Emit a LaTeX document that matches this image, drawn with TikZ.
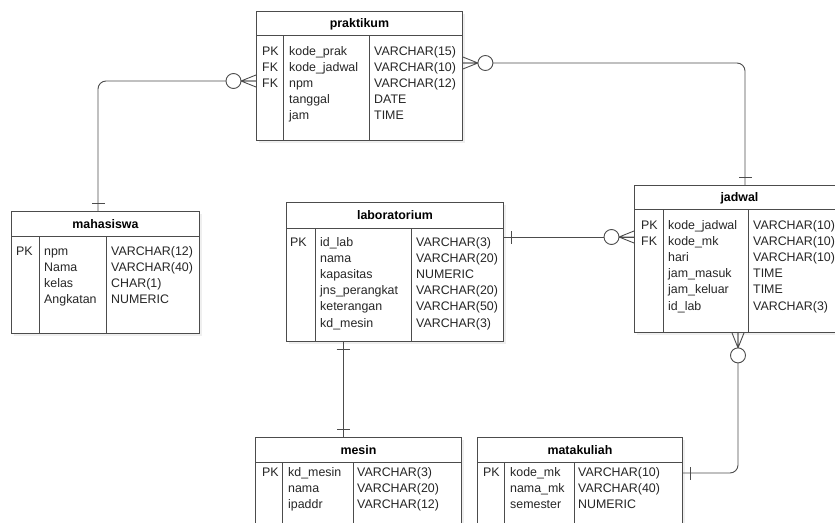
\documentclass[tikz,border=0pt]{standalone}
\usepackage{fontspec}
\setmainfont{Liberation Sans}
\usetikzlibrary{calc,shadows}

\newcommand{\erdfont}{\fontsize{12.4}{15}\selectfont}

\tikzset{
  erd/.style={line width=0.9pt, draw=black!70},
  tbl/.style={erd, anchor=north west, fill=white,
    drop shadow={shadow xshift=3pt, shadow yshift=-3pt, fill=black!12}},
  ttl/.style={font=\erdfont\bfseries, anchor=base, inner sep=0pt},
  fld/.style={anchor=base west, inner sep=0pt, text=black!85},
  zeromany/.pic={
    \draw[erd] (0pt,6pt) -- (15pt,0pt) -- (0pt,-6pt) (0pt,0pt) -- (15pt,0pt);
    \draw[erd, fill=white] (22.5pt,0pt) circle[radius=7.5pt];},
  onebar/.pic={\draw[erd] (8pt,-6.5pt) -- (8pt,6.5pt);}
}

% table: name, x, y, width, height, header, col 1, col 2, title
\newcommand{\erdbox}[9]{%
  \node[tbl, minimum width=#4pt, minimum height=#5pt] (#1) at (#2,#3) {};
  \draw[erd] ([yshift=-#6pt]#1.north west) -- ([yshift=-#6pt]#1.north east);
  \draw[erd] ([xshift=#7pt,yshift=-#6pt]#1.north west) -- ([xshift=#7pt]#1.south west);
  \draw[erd] ([xshift=#8pt,yshift=-#6pt]#1.north west) -- ([xshift=#8pt]#1.south west);
  \node[ttl] (#1-title) at ([yshift=-#6pt/2-4.5pt]#1.north) {#9};}
% column of texts: name, x, first baseline, list
\newcommand{\erdcol}[4]{%
  \foreach \t [count=\i] in {#4} {\node[fld] (#1\i) at (#2,#3+16.2*\i-16.2) {\t};}}

\begin{document}
\begin{tikzpicture}[x=1pt, y=-1pt, font=\erdfont]
\useasboundingbox (0,0) rectangle (835,522);
\clip (0,0) rectangle (835,522);

% tables
\erdbox{praktikum}{256}{11}{206}{129}{24}{27}{113}{praktikum}
\erdcol{praktikum-k}{262}{55}{PK, FK, FK}
\erdcol{praktikum-f}{289}{55}{kode\_prak, kode\_jadwal, npm, tanggal, jam}
\erdcol{praktikum-t}{374}{55}{VARCHAR(15), VARCHAR(10), VARCHAR(12), DATE, TIME}

\erdbox{mahasiswa}{11}{211}{188}{122}{25}{28}{95}{mahasiswa}
\erdcol{mahasiswa-k}{16}{255}{PK}
\erdcol{mahasiswa-f}{44}{255}{npm, Nama, kelas, Angkatan}
\erdcol{mahasiswa-t}{111}{255}{VARCHAR(12), VARCHAR(40), CHAR(1), NUMERIC}

\erdbox{laboratorium}{286}{202}{217}{139}{26}{29}{125}{laboratorium}
\erdcol{laboratorium-k}{290}{246}{PK}
\erdcol{laboratorium-f}{320}{246}{id\_lab, nama, kapasitas, jns\_perangkat, keterangan, kd\_mesin}
\erdcol{laboratorium-t}{416}{246}{VARCHAR(3), VARCHAR(20), NUMERIC, VARCHAR(20), VARCHAR(50), VARCHAR(3)}

\erdbox{jadwal}{634}{185}{210}{147}{24}{29}{114}{jadwal}
\erdcol{jadwal-k}{641}{229}{PK, FK}
\erdcol{jadwal-f}{668}{229}{kode\_jadwal, kode\_mk, hari, jam\_masuk, jam\_keluar, id\_lab}
\erdcol{jadwal-t}{753}{229}{VARCHAR(10), VARCHAR(10), VARCHAR(10), TIME, TIME, VARCHAR(3)}

\erdbox{mesin}{255}{437}{206}{100}{25}{27}{98}{mesin}
\erdcol{mesin-k}{262}{476}{PK}
\erdcol{mesin-f}{288}{476}{kd\_mesin, nama, ipaddr}
\erdcol{mesin-t}{357}{476}{VARCHAR(3), VARCHAR(20), VARCHAR(12)}

\erdbox{matakuliah}{477}{437}{205}{100}{25}{27}{97}{matakuliah}
\erdcol{matakuliah-k}{483}{476}{PK}
\erdcol{matakuliah-f}{510}{476}{kode\_mk, nama\_mk, semester}
\erdcol{matakuliah-t}{578}{476}{VARCHAR(10), VARCHAR(40), NUMERIC}

% relations
\draw[erd, rounded corners=8pt] ([yshift=-70pt]praktikum.north west) coordinate (pm)
  -| ([xshift=87pt]mahasiswa.north west) coordinate (mp);
\draw[erd, rounded corners=8pt] ([yshift=-52pt]praktikum.north east) coordinate (pj)
  -| ([xshift=111pt]jadwal.north west) coordinate (jp);
\draw[erd] ([yshift=-35pt]laboratorium.north east) coordinate (lj)
  -- (lj -| jadwal.west) coordinate (jl);
\draw[erd] ([xshift=57pt]laboratorium.south west) coordinate (lm)
  -- (lm |- mesin.north) coordinate (ml);
\draw[erd, rounded corners=8pt] ([xshift=104pt]jadwal.south west) coordinate (jm)
  |- ([yshift=-36pt]matakuliah.north east) coordinate (mj);

% relation ends
\pic[rotate=180] at (pm) {zeromany};
\pic[rotate=90] at (mp) {onebar};
\pic at (pj) {zeromany};
\pic[rotate=90] at (jp) {onebar};
\pic at (lj) {onebar};
\pic[rotate=180] at (jl) {zeromany};
\pic[rotate=-90] at (lm) {onebar};
\pic[rotate=90] at (ml) {onebar};
\pic[rotate=-90] at (jm) {zeromany};
\pic at (mj) {onebar};
\end{tikzpicture}
\end{document}
